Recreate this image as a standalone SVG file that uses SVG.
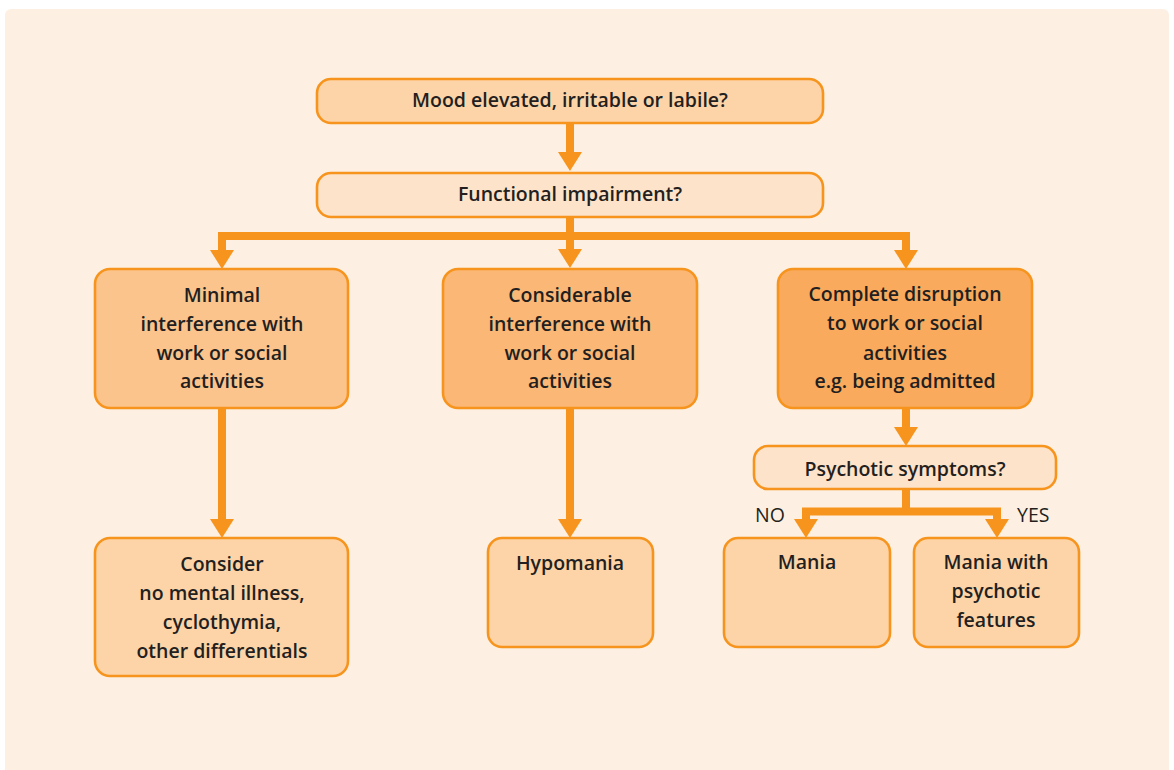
<svg xmlns="http://www.w3.org/2000/svg" width="1174" height="770" viewBox="0 0 1174 770">
  <defs>
    <style>
      .node rect { stroke: #f7941d; stroke-width: 2.6; }
      .q { fill: #fde3c9; }
      .lvl0 { fill: #fdd4a8; }
      .lvl1 { fill: #fcc48d; }
      .lvl2 { fill: #fbb776; }
      .lvl3 { fill: #f9aa5d; }
      .node text { font-family: "Open Sans", "Liberation Sans", sans-serif; font-weight: 600; font-size: 19.5px; fill: #231f20; text-anchor: middle; }
      .lbl { font-family: "Open Sans", "Liberation Sans", sans-serif; font-size: 19.5px; fill: #231f20; }
      .conn { fill: none; stroke: #f7941d; stroke-width: 8; stroke-linejoin: miter; }
    </style>
    <marker id="head" markerUnits="userSpaceOnUse" markerWidth="20" markerHeight="26" viewBox="0 -13 20 26" refX="0" refY="0" orient="auto">
      <path d="M0,-12 L19,0 L0,12 z" fill="#f7941d"/>
    </marker>
  </defs>

  <rect x="0" y="0" width="1174" height="770" fill="#ffffff"/>
  <rect x="5" y="9" width="1164" height="770" rx="6" fill="#fdf0e2"/>

  <!-- connectors -->
  <g id="connectors">
    <path class="conn" d="M570,123 V152" marker-end="url(#head)"/>
    <path class="conn" d="M570,217 V249" marker-end="url(#head)"/>
    <path class="conn" d="M222,250 V236 H906 V250" />
    <path class="conn" d="M222,244 V250" marker-end="url(#head)"/>
    <path class="conn" d="M906,244 V250" marker-end="url(#head)"/>
    <path class="conn" d="M222,408 V519" marker-end="url(#head)"/>
    <path class="conn" d="M570,408 V519" marker-end="url(#head)"/>
    <path class="conn" d="M906,408 V427" marker-end="url(#head)"/>
    <path class="conn" d="M806,519 V511.5 H997 V519"/>
    <path class="conn" d="M906,489 V511.5"/>
    <path class="conn" d="M806,514 V519" marker-end="url(#head)"/>
    <path class="conn" d="M997,514 V519" marker-end="url(#head)"/>
    <text class="lbl" x="755" y="522">NO</text>
    <text class="lbl" x="1017" y="522">YES</text>
  </g>

  <g id="mood" class="node">
    <rect class="lvl0" x="317" y="79" width="506" height="44" rx="14"/>
    <text x="570" y="107">Mood elevated, irritable or labile?</text>
  </g>

  <g id="functional" class="node">
    <rect class="q" x="317" y="173" width="506" height="44" rx="14"/>
    <text x="570" y="201">Functional impairment?</text>
  </g>

  <g id="minimal" class="node">
    <rect class="lvl1" x="95" y="269" width="253" height="139" rx="15"/>
    <text x="222" y="302">Minimal</text>
    <text x="222" y="331">interference with</text>
    <text x="222" y="360">work or social</text>
    <text x="222" y="388">activities</text>
  </g>

  <g id="considerable" class="node">
    <rect class="lvl2" x="443" y="269" width="254" height="139" rx="15"/>
    <text x="570" y="302">Considerable</text>
    <text x="570" y="331">interference with</text>
    <text x="570" y="360">work or social</text>
    <text x="570" y="388">activities</text>
  </g>

  <g id="complete" class="node">
    <rect class="lvl3" x="778" y="269" width="254" height="139" rx="15"/>
    <text x="905" y="301">Complete disruption</text>
    <text x="905" y="330">to work or social</text>
    <text x="905" y="360">activities</text>
    <text x="905" y="388">e.g. being admitted</text>
  </g>

  <g id="psychotic" class="node">
    <rect class="q" x="754" y="446" width="302" height="43" rx="14"/>
    <text x="905" y="476">Psychotic symptoms?</text>
  </g>

  <g id="consider" class="node">
    <rect class="lvl0" x="95" y="538" width="253" height="138" rx="15"/>
    <text x="222" y="571">Consider</text>
    <text x="222" y="600">no mental illness,</text>
    <text x="222" y="629">cyclothymia,</text>
    <text x="222" y="658">other differentials</text>
  </g>

  <g id="hypomania" class="node">
    <rect class="lvl0" x="488" y="538" width="165" height="109" rx="14"/>
    <text x="570" y="570">Hypomania</text>
  </g>

  <g id="mania" class="node">
    <rect class="lvl0" x="724" y="538" width="166" height="109" rx="14"/>
    <text x="807" y="569">Mania</text>
  </g>

  <g id="mania-psychotic" class="node">
    <rect class="lvl0" x="914" y="538" width="165" height="109" rx="14"/>
    <text x="996" y="569">Mania with</text>
    <text x="996" y="598">psychotic</text>
    <text x="996" y="627">features</text>
  </g>
</svg>
